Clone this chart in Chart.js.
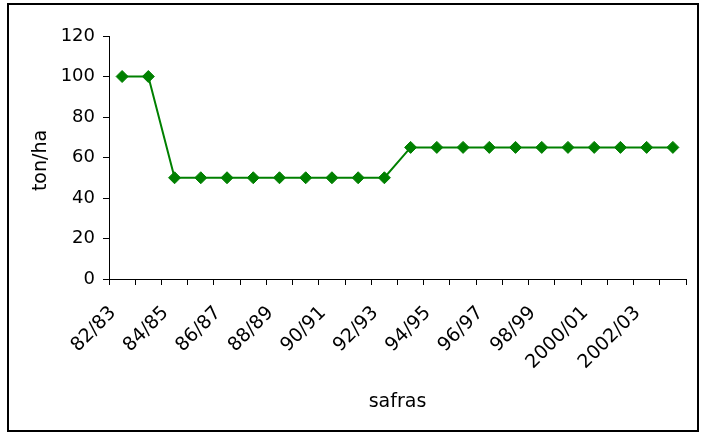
<!DOCTYPE html>
<html>
<head>
<meta charset="utf-8">
<script src="https://cdn.jsdelivr.net/npm/chart.js@4"></script>
<style>
  html, body { margin: 0; padding: 0; background: #fff; }
  #wrap { width: 707px; height: 435px; position: relative; }
</style>
</head>
<body>
<div id="wrap"><canvas id="c" width="707" height="435"></canvas></div>
<script>
// Harvest seasons (safras)
const safras = [
  '82/83', '83/84', '84/85', '85/86', '86/87', '87/88', '88/89', '89/90',
  '90/91', '91/92', '92/93', '93/94', '94/95', '95/96', '96/97', '97/98',
  '98/99', '99/2000', '2000/01', '2001/02', '2002/03', '2003/04'
];
// Yield in ton/ha for each season
const tonHa = [
  100, 100, 50, 50, 50, 50, 50, 50, 50, 50, 50,
  65, 65, 65, 65, 65, 65, 65, 65, 65, 65, 65
];
const yTicks = [0, 20, 40, 60, 80, 100, 120];

const FONT = 'DejaVu Sans, Verdana, sans-serif';

// Frame around the whole chart
const framePlugin = {
  id: 'frame',
  afterDraw(chart) {
    const ctx = chart.ctx;
    ctx.save();
    ctx.strokeStyle = '#000';
    ctx.lineWidth = 2;
    ctx.strokeRect(8, 4, 690, 427);
    ctx.restore();
  }
};

new Chart(document.getElementById('c'), {
  type: 'line',
  data: {
    labels: safras,
    datasets: [{
      data: tonHa,
      borderColor: '#008000',
      backgroundColor: '#008000',
      borderWidth: 2,
      pointStyle: 'rectRot',
      pointRadius: 6,
      pointHoverRadius: 6,
      pointBorderWidth: 1,
      tension: 0
    }]
  },
  options: {
    responsive: false,
    animation: false,
    events: [],
    layout: { padding: { top: 36, right: 21, left: 0, bottom: 0 } },
    plugins: { legend: { display: false }, tooltip: { enabled: false } },
    scales: {
      x: {
        offset: true,
        grid: { offset: true, drawOnChartArea: false, drawTicks: true, tickLength: 6, color: '#000' },
        border: { color: '#000', width: 1 },
        ticks: {
          autoSkip: false,
          minRotation: 45,
          maxRotation: 45,
          padding: 17,
          labelOffset: -9,
          color: '#000',
          font: { family: FONT, size: 19 },
          callback(value, index) { return index % 2 === 0 ? safras[index] : ''; }
        },
        title: {
          display: true, text: 'safras', color: '#000',
          font: { family: FONT, size: 19 },
          padding: { top: 0, bottom: 22 }
        },
        afterFit(scale) { scale.height = 156; scale.paddingLeft = 0; scale.paddingRight = 0; }
      },
      y: {
        min: 0, max: 120,
        afterBuildTicks(scale) { scale.ticks = yTicks.map(v => ({ value: v })); },
        grid: { drawOnChartArea: false, drawTicks: true, tickLength: 6, color: '#000' },
        border: { color: '#000', width: 1 },
        ticks: { padding: 8, color: '#000', font: { family: FONT, size: 18 } },
        title: {
          display: true, text: 'ton/ha ', color: '#000',
          font: { family: FONT, size: 19 },
          padding: { top: 30, bottom: 0 }
        },
        afterFit(scale) { scale.width = 109; scale.paddingTop = 0; scale.paddingBottom = 0; }
      }
    }
  },
  plugins: [framePlugin]
});
</script>
</body>
</html>
